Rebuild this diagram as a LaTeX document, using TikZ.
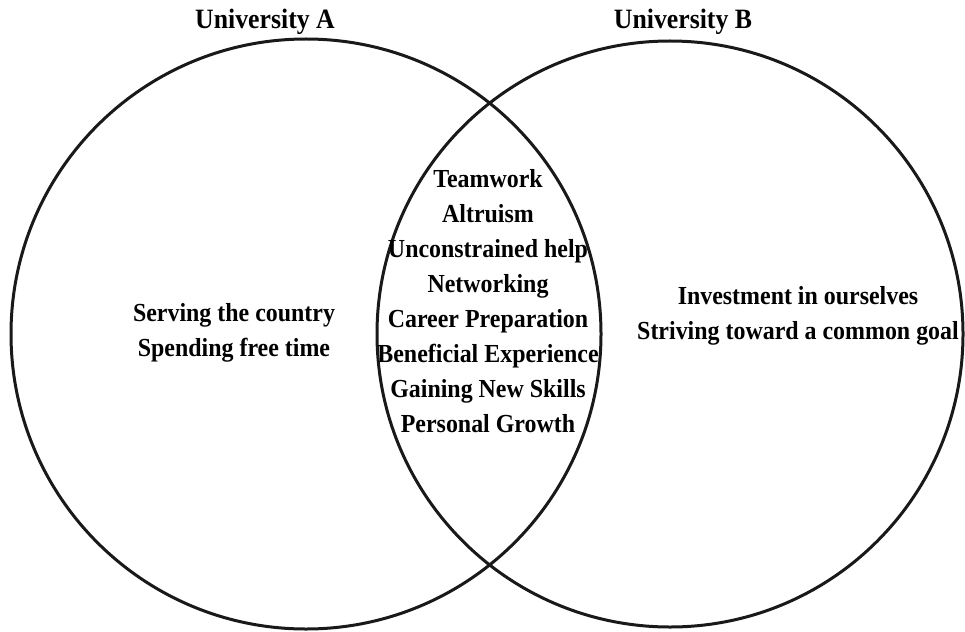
\documentclass[tikz,border=0pt]{standalone}
\usepackage{fontspec}
\setmainfont{Liberation Serif}
\newfontfamily\condserif[FakeStretch=0.92]{Liberation Serif}
\tikzset{
  setcircle/.style={circle, draw=black!90, line width=3pt, minimum size=590pt, inner sep=0pt},
  titletext/.style={font=\condserif\fontsize{28}{30}\selectfont\bfseries, inner sep=0pt},
  bodytext/.style={font=\condserif\fontsize{26}{35}\selectfont\bfseries, align=center, inner sep=0pt}
}
\begin{document}
\begin{tikzpicture}[x=1pt,y=-1pt]
\useasboundingbox (0,0) rectangle (965,631);
\node[setcircle] (A) at (306,334) {};
\node[setcircle, minimum size=586pt] (B) at (670,334) {};
\node[titletext] (tA) at (265,22) {University A};
\node[titletext] (tB) at (683,22) {University B};
\node[bodytext] (left) at (234,333) {Serving the country\\Spending free time};
\node[bodytext] (right) at (798,316) {Investment in ourselves\\Striving toward a common goal};
\node[bodytext] (mid) at (488,301) {Teamwork\\Altruism\\Unconstrained help\\Networking\\Career Preparation\\Beneficial Experience\\Gaining New Skills\\Personal Growth};
\end{tikzpicture}
\end{document}
